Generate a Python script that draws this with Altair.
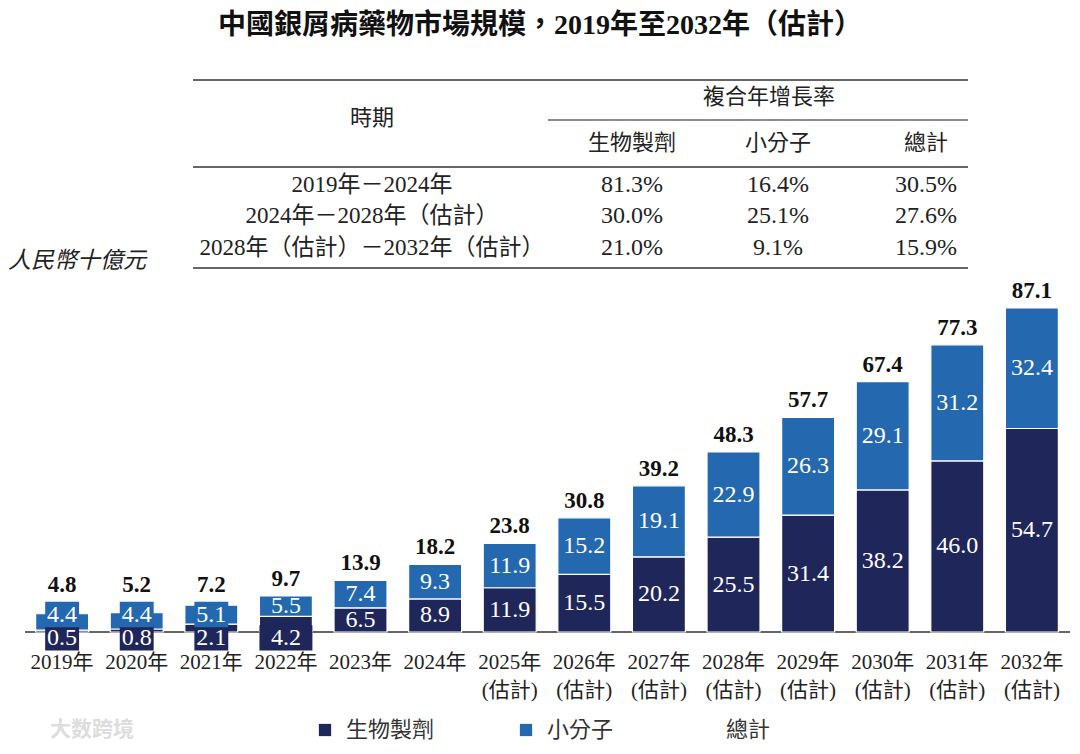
import altair as alt
import pandas as pd

# ---------------- data ----------------
years = ["2019年", "2020年", "2021年", "2022年", "2023年", "2024年",
         "2025年\n(估計)", "2026年\n(估計)", "2027年\n(估計)", "2028年\n(估計)",
         "2029年\n(估計)", "2030年\n(估計)", "2031年\n(估計)", "2032年\n(估計)"]
bio = [0.5, 0.8, 2.1, 4.2, 6.5, 8.9, 11.9, 15.5, 20.2, 25.5, 31.4, 38.2, 46.0, 54.7]
small = [4.4, 4.4, 5.1, 5.5, 7.4, 9.3, 11.9, 15.2, 19.1, 22.9, 26.3, 29.1, 31.2, 32.4]
total = [4.8, 5.2, 7.2, 9.7, 13.9, 18.2, 23.8, 30.8, 39.2, 48.3, 57.7, 67.4, 77.3, 87.1]
series = ["生物製劑", "小分子", "總計"]

periods = ["2019年－2024年", "2024年－2028年（估計）", "2028年（估計）－2032年（估計）"]
cagr_bio = ["81.3%", "30.0%", "21.0%"]
cagr_small = ["16.4%", "25.1%", "9.1%"]
cagr_total = ["30.5%", "27.6%", "15.9%"]
hdr_group = "複合年增長率"
hdr_period = "時期"

title_text = "中國銀屑病藥物市場規模，2019年至2032年（估計）"
unit_text = "人民幣十億元"
watermark = "大数跨境"

# ---------------- style ----------------
DARK = "#1f2659"
BLUE = "#2468b0"
TXT = "#222222"
SERIF = "Liberation Serif, 'Noto Sans CJK TC', serif"
CJK = "'Noto Sans CJK TC', sans-serif"
PAD_TOP = 12
PAD_BOTTOM = 114
W, H = 1064, 624 - PAD_TOP
PX_PER_UNIT = 3.72
Y_MAX = H / PX_PER_UNIT
SMALL_LABEL_Y = -1.6     # label position below the axis for thin dark segments
BLUE_LABEL_MIN = 4.7
BOX_HALF = 3.4

# ---------------- derived tables ----------------
seg_rows, lab_rows, box_rows, tot_rows = [], [], [], []
for i, yr in enumerate(years):
    b, s = bio[i], small[i]
    seg_rows.append(dict(year=yr, series=series[0], y0=0.0, y1=b))
    seg_rows.append(dict(year=yr, series=series[1], y0=b, y1=b + s))
    dl = b / 2 if b >= 5 else SMALL_LABEL_Y
    bl = b + s / 2
    if b < 3:
        bl = max(bl, BLUE_LABEL_MIN)
    lab_rows.append(dict(year=yr, series=series[0], y=dl, text=f"{b:.1f}"))
    lab_rows.append(dict(year=yr, series=series[1], y=bl, text=f"{s:.1f}"))
    top = b + s
    if b < 5:
        box_rows.append(dict(year=yr, series=series[0], y0=dl - BOX_HALF, y1=dl + BOX_HALF,
                             kind="narrow" if b < 3 else "wide"))
    if b < 3:
        box_rows.append(dict(year=yr, series=series[1], y0=bl - BOX_HALF, y1=bl + BOX_HALF,
                             kind="narrow"))
        top = max(top, bl + BOX_HALF)
    tot_rows.append(dict(year=yr, y=top, text=f"{total[i]:.1f}"))

seg_df = pd.DataFrame(seg_rows)
lab_df = pd.DataFrame(lab_rows)
box_df = pd.DataFrame(box_rows)
tot_df = pd.DataFrame(tot_rows)

xband = alt.Scale(type="band", domain=years, paddingInner=0.29, paddingOuter=0.2765, align=0.67)
yscale = alt.Scale(domain=[0, Y_MAX], nice=False, zero=False)
cscale = alt.Scale(domain=series, range=[DARK, BLUE, "#ffffff"])

X_AX = alt.X("year:N", scale=xband, sort=None, title=None,
             axis=alt.Axis(labelExpr="split(datum.label, '\\n')", labelAngle=0,
                           labelFont=SERIF, labelFontSize=21, labelColor=TXT,
                           labelLineHeight=28, labelPadding=19, ticks=False,
                           domain=False, labelBaseline="top"))
X_NOAX = alt.X("year:N", scale=xband, sort=None, axis=None)

axis_line = alt.Chart(pd.DataFrame({"k": [0]})).mark_rule(color="#333333", strokeWidth=1.5).encode(
    x=alt.value(17), x2=alt.value(1062), y=alt.value(H))

bars = alt.Chart(seg_df).mark_bar(stroke="white", strokeWidth=1.2).encode(
    x=X_AX,
    y=alt.Y("y1:Q", scale=yscale, axis=None),
    y2="y0:Q",
    color=alt.Color("series:N", scale=cscale,
                    legend=alt.Legend(title=None, orient="none", legendX=306,
                                      legendY=711 - PAD_TOP,
                                      direction="horizontal", symbolType="square",
                                      symbolSize=150, symbolStrokeWidth=0,
                                      labelFont=CJK, labelFontSize=22, labelColor="#333333",
                                      columnPadding=80, labelOffset=10, padding=0)),
)

box_narrow = alt.Chart(box_df).transform_filter("datum.kind == 'narrow'").mark_bar(
    width=alt.RelativeBandSize(0.64)).encode(
    x=X_NOAX, y=alt.Y("y1:Q", scale=yscale, axis=None), y2="y0:Q",
    color=alt.Color("series:N", scale=cscale, legend=None))
box_wide = alt.Chart(box_df).transform_filter("datum.kind == 'wide'").mark_bar(
    width=alt.RelativeBandSize(1.0)).encode(
    x=X_NOAX, y=alt.Y("y1:Q", scale=yscale, axis=None), y2="y0:Q",
    color=alt.Color("series:N", scale=cscale, legend=None))

seg_labels = alt.Chart(lab_df).mark_text(font=SERIF, fontSize=24, color="white",
                                         baseline="middle", align="center").encode(
    x=X_NOAX, y=alt.Y("y:Q", scale=yscale, axis=None), text="text:N")

tot_labels = alt.Chart(tot_df).mark_text(font=SERIF, fontSize=23, fontWeight="bold",
                                         color="#111111", baseline="alphabetic", dy=-10,
                                         align="center").encode(
    x=X_NOAX, y=alt.Y("y:Q", scale=yscale, axis=None), text="text:N")

# ---------------- table / titles layer ----------------
COL_X = {"period": 364, "bio": 624, "small": 770, "total": 918}
ROW_Y = {k: v - PAD_TOP for k, v in
         {"group": 89, "period_hdr": 110, "sub": 135, "r0": 177, "r1": 208, "r2": 240}.items()}

cells = []
cells.append(dict(text=hdr_period, x=COL_X["period"], y=ROW_Y["period_hdr"], kind="hdr"))
cells.append(dict(text=hdr_group, x=761, y=ROW_Y["group"], kind="hdr"))
for key, name in zip(["bio", "small", "total"], series):
    cells.append(dict(text=name, x=COL_X[key], y=ROW_Y["sub"], kind="hdr"))
for r, p in enumerate(periods):
    ry = ROW_Y[f"r{r}"]
    cells.append(dict(text=p, x=COL_X["period"], y=ry, kind="body"))
    cells.append(dict(text=cagr_bio[r], x=COL_X["bio"], y=ry, kind="num"))
    cells.append(dict(text=cagr_small[r], x=COL_X["small"], y=ry, kind="num"))
    cells.append(dict(text=cagr_total[r], x=COL_X["total"], y=ry, kind="num"))
cells_df = pd.DataFrame(cells)

rules_df = pd.DataFrame([
    dict(x=185, x2=960, y=72 - PAD_TOP, w=2.2),
    dict(x=540, x2=960, y=112 - PAD_TOP, w=1.5),
    dict(x=185, x2=960, y=159 - PAD_TOP, w=2.2),
    dict(x=185, x2=960, y=260 - PAD_TOP, w=2.2),
])

TX = alt.Scale(domain=[0, W], nice=False, zero=False)
TY = alt.Scale(domain=[0, H], nice=False, zero=False, reverse=True)


def table_text(kind, font, size):
    return alt.Chart(cells_df).transform_filter(f"datum.kind == '{kind}'").mark_text(
        font=font, fontSize=size, color=TXT, baseline="middle", align="center").encode(
        x=alt.X("x:Q", scale=TX, axis=None), y=alt.Y("y:Q", scale=TY, axis=None), text="text:N")


tab_hdr = table_text("hdr", CJK, 22)
tab_body = table_text("body", SERIF, 23)
tab_num = table_text("num", SERIF, 24)
tab_rules = alt.Chart(rules_df).mark_rule(color="#666666").encode(
    x=alt.X("x:Q", scale=TX, axis=None), x2="x2:Q",
    y=alt.Y("y:Q", scale=TY, axis=None), strokeWidth=alt.StrokeWidth("w:Q", scale=None))

title_mark = alt.Chart(pd.DataFrame({"t": [title_text]})).mark_text(
    font=SERIF, fontSize=28, fontWeight="bold", color="#111111", baseline="top",
    align="center").encode(x=alt.value(532), y=alt.value(4 - PAD_TOP), text="t:N")
unit_mark = alt.Chart(pd.DataFrame({"t": [unit_text]})).mark_text(
    font=CJK, fontSize=23, fontStyle="italic", color=TXT, baseline="middle",
    align="left").encode(x=alt.value(0), y=alt.value(253 - PAD_TOP), text="t:N")
wm_mark = alt.Chart(pd.DataFrame({"t": [watermark]})).mark_text(
    font=CJK, fontSize=21, fontWeight="bold", color="#dddddd", baseline="middle",
    align="left").encode(x=alt.value(42), y=alt.value(722 - PAD_TOP), text="t:N")

chart = alt.layer(
    tab_rules, tab_hdr, tab_body, tab_num, title_mark, unit_mark, wm_mark,
    axis_line, bars, box_narrow, box_wide, seg_labels, tot_labels
).resolve_scale(x="independent", y="independent").properties(
    width=W, height=H,
    padding={"top": PAD_TOP, "left": 0, "right": 0, "bottom": PAD_BOTTOM},
    autosize=alt.AutoSizeParams(type="none"),
    background="white"
).configure_view(stroke=None)

chart.save("out.html", embed_options={"renderer": "svg", "actions": False})
